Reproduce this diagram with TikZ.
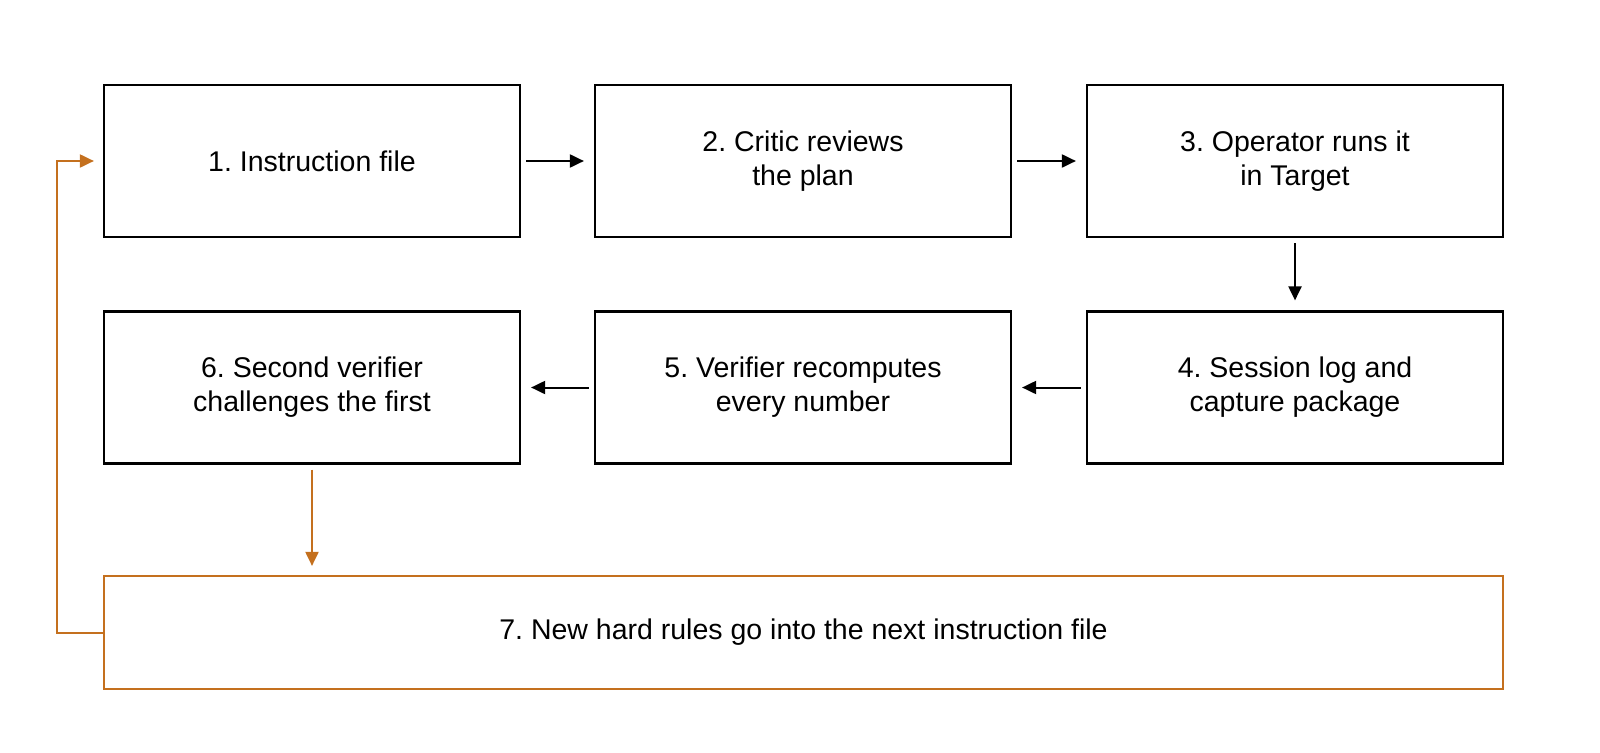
\documentclass[tikz,border=0pt]{standalone}
\usepackage{fontspec}
\setmainfont{Liberation Sans}
\usetikzlibrary{arrows.meta}
\definecolor{org}{HTML}{C4701E}
\frenchspacing
\begin{document}
\begin{tikzpicture}[x=1pt,y=-1pt,
  box/.style={draw,line width=2.2pt,minimum width=416pt,minimum height=152pt,align=center,font=\fontsize{28.5}{34}\selectfont,inner sep=0pt},
  arr/.style={-{Triangle[length=14pt,width=13pt]},line width=2pt}]
\node[box] (b1) at (312,161) {1.\ Instruction file};
\node[box] (b2) at (803,161) {2.\ Critic reviews\\the plan};
\node[box] (b3) at (1295,161) {3.\ Operator runs it\\in Target};
\node[box] (b4) at (1295,387.5) {4.\ Session log and\\capture package};
\node[box] (b5) at (803,387.5) {5.\ Verifier recomputes\\every number};
\node[box] (b6) at (312,387.5) {6.\ Second verifier\\challenges the first};
\node[box,draw=org,minimum width=1399pt,minimum height=113pt] (b7) at (803.5,632.5) {7.\ New hard rules go into the next instruction file};
\draw[arr,shorten <=5pt,shorten >=10pt] (b1.east) -- (b2.west);
\draw[arr,shorten <=5pt,shorten >=10pt] (b2.east) -- (b3.west);
\draw[arr,shorten <=5pt,shorten >=10pt] (b3.south) -- (b4.north);
\draw[arr,shorten <=5pt,shorten >=10pt] (b4.west) -- (b5.east);
\draw[arr,shorten <=5pt,shorten >=10pt] (b5.west) -- (b6.east);
\draw[arr,org,shorten <=5pt,shorten >=9pt] (b6.south) -- (b6.south |- b7.north);
\coordinate (c1) at (57,632.5);
\coordinate (c2) at (57,161);
\draw[arr,org,shorten >=9pt] (b7.west) -- (c1) -- (c2) -- (b1.west);
\pgfresetboundingbox
\useasboundingbox (0,0) rectangle (1600,752);
\end{tikzpicture}
\end{document}
